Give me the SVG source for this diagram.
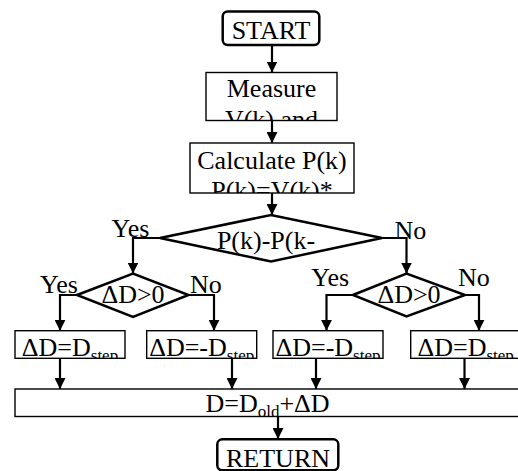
<svg xmlns="http://www.w3.org/2000/svg" width="518" height="471" viewBox="0 0 518 471" font-family="'Liberation Serif', 'Times New Roman', 'DejaVu Serif', serif">
<style>
text{font-family:'Liberation Serif','Times New Roman','DejaVu Serif',serif;font-size:26px;fill:#000}
.c{text-anchor:middle}
.sub{font-size:17px}
.box{fill:#fff;stroke:#000;stroke-width:1.4}
.term{fill:#fff;stroke:#000;stroke-width:2.5}
.dia{fill:#fff;stroke:#000;stroke-width:2.5}
.con{fill:none;stroke:#000;stroke-width:2.2}
</style>
<defs>
<marker id="ah" viewBox="0 0 10 10" refX="10" refY="5" markerWidth="11" markerHeight="11" markerUnits="userSpaceOnUse" orient="auto">
<path d="M0,0 L10,5 L0,10 z" fill="#000"/>
</marker>
<clipPath id="cM"><rect x="206" y="72.5" width="131" height="48"/></clipPath>
<clipPath id="cC"><rect x="190" y="143" width="164" height="50"/></clipPath>
<clipPath id="c1"><rect x="15" y="330.7" width="110" height="27.6"/></clipPath>
<clipPath id="c2"><rect x="146.7" y="330.7" width="110" height="27.6"/></clipPath>
<clipPath id="c3"><rect x="273" y="330.7" width="110" height="27.6"/></clipPath>
<clipPath id="c4"><rect x="410.7" y="330.7" width="110" height="27.6"/></clipPath>
</defs>

<g id="connectors">
<path class="con" d="M272,45 V72.5" marker-end="url(#ah)"/>
<path class="con" d="M272,120.5 V143" marker-end="url(#ah)"/>
<path class="con" d="M272,193 V215" marker-end="url(#ah)"/>
<path class="con" d="M160,238 H133 V273.5" marker-end="url(#ah)"/>
<path class="con" d="M382,238 H406.5 V273.5" marker-end="url(#ah)"/>
<path class="con" d="M77,295 H60 V330.7" marker-end="url(#ah)"/>
<path class="con" d="M188.5,295 H214 V330.7" marker-end="url(#ah)"/>
<path class="con" d="M353,295 H326.5 V330.7" marker-end="url(#ah)"/>
<path class="con" d="M465,295 H479 V330.7" marker-end="url(#ah)"/>
<path class="con" d="M60,358.3 V389" marker-end="url(#ah)"/>
<path class="con" d="M232,358.3 V389" marker-end="url(#ah)"/>
<path class="con" d="M316,358.3 V389" marker-end="url(#ah)"/>
<path class="con" d="M464.5,358.3 V389" marker-end="url(#ah)"/>
<path class="con" d="M278,416.5 V439" marker-end="url(#ah)"/>
</g>

<g id="start">
<rect class="term" x="222.7" y="11.5" width="96.6" height="33.5" rx="5"/>
<text class="c" x="271" y="39">START</text>
</g>

<g id="measure">
<rect class="box" x="206" y="72.5" width="131" height="48"/>
<g clip-path="url(#cM)">
<text class="c" x="271.5" y="97">Measure</text>
<text class="c" x="271.5" y="128">V(k) and</text>
</g>
</g>

<g id="calculate">
<rect class="box" x="190" y="143" width="164" height="50"/>
<g clip-path="url(#cC)">
<text class="c" x="272" y="169">Calculate P(k)</text>
<text class="c" x="272" y="199">P(k)=V(k)*</text>
</g>
</g>

<g id="decision1">
<polygon class="dia" points="160,238 271,215 382,238 271,261.5"/>
<text class="c" x="266" y="249">P(k)-P(k-</text>
<text x="111.5" y="237">Yes</text>
<text x="394.5" y="239">No</text>
</g>

<g id="decision2">
<polygon class="dia" points="77,295 133,273.5 188.5,295 133,317"/>
<text class="c" x="133" y="303">ΔD&gt;0</text>
<text x="40" y="293">Yes</text>
<text x="190" y="293">No</text>
</g>

<g id="decision3">
<polygon class="dia" points="353,295 406.5,273.5 465,295 406.5,316.5"/>
<text class="c" x="409" y="303">ΔD&gt;0</text>
<text x="311.3" y="286">Yes</text>
<text x="458" y="286">No</text>
</g>

<g id="step1">
<rect class="box" x="15" y="330.7" width="110" height="27.6"/>
<g clip-path="url(#c1)"><text class="c" x="70" y="356">ΔD=D<tspan class="sub" dy="5">step</tspan></text></g>
</g>
<g id="step2">
<rect class="box" x="146.7" y="330.7" width="110" height="27.6"/>
<g clip-path="url(#c2)"><text class="c" x="201.7" y="356">ΔD=-D<tspan class="sub" dy="5">step</tspan></text></g>
</g>
<g id="step3">
<rect class="box" x="273" y="330.7" width="110" height="27.6"/>
<g clip-path="url(#c3)"><text class="c" x="328" y="356">ΔD=-D<tspan class="sub" dy="5">step</tspan></text></g>
</g>
<g id="step4">
<rect class="box" x="410.7" y="330.7" width="110" height="27.6"/>
<g clip-path="url(#c4)"><text class="c" x="465.7" y="356">ΔD=D<tspan class="sub" dy="5">step</tspan></text></g>
</g>

<g id="update">
<rect class="box" x="15" y="389" width="510" height="27.5"/>
<text class="c" x="267.5" y="411.5">D=D<tspan class="sub" dy="5">old</tspan><tspan dy="-5">+ΔD</tspan></text>
</g>

<g id="return">
<rect class="term" x="217.3" y="439.3" width="121" height="31" rx="5"/>
<text class="c" x="278" y="466.5">RETURN</text>
</g>
</svg>
